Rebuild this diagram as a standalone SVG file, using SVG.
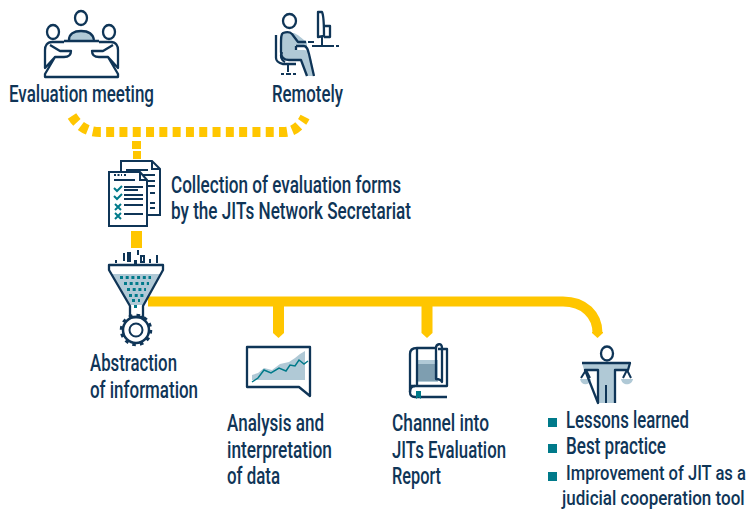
<svg xmlns="http://www.w3.org/2000/svg" width="749" height="510" viewBox="0 0 749 510">
<style>
text{font-family:"Roboto","Liberation Sans",sans-serif;font-size:23px;font-weight:500;fill:#0f3557}
text.s{font-size:21px}
.o{fill:none;stroke:#0f3557;stroke-width:2.300;stroke-linejoin:round}
.w{fill:#fff;stroke:#0f3557;stroke-width:2;stroke-linejoin:miter}
.f{fill:#b0c9d6}
.t{fill:#007a8a}
.y{fill:none;stroke:#ffc600;stroke-width:10}
.n{fill:#0f3557}
.l{stroke:#0f3557;stroke-width:2;fill:none}
</style>
<g id="connectors">
<path class="y" d="M72,116C79,127 88,132 100,132L283,132C293,132 300,127 305,117" stroke-dasharray="8 5.300"/>
<rect x="132" y="141" width="9" height="8" fill="#ffc600"/>
<rect x="133" y="151" width="8" height="8" fill="#ffc600"/>
<rect x="131" y="231" width="11" height="17" fill="#ffc600"/>
<path class="y" stroke-width="11" d="M148,301.500H563C584,301.500 597.500,315 597.500,333"/>
<path fill="#ffc600" d="M592,332h11v1l-5.500,5l-5.500,-5z"/>
<path fill="#ffc600" d="M273,306h11v27l-5.500,5l-5.500,-5z"/>
<path fill="#ffc600" d="M421.500,306h11v27l-5.500,5l-5.500,-5z"/>
</g>
<g id="evaluation-meeting">
<ellipse class="o" cx="81" cy="18" rx="6" ry="7"/>
<ellipse class="o" cx="53" cy="32" rx="6" ry="7"/>
<ellipse class="o" cx="109" cy="32" rx="6" ry="7"/>
<path class="f" d="M69,40C69,34 74,31 81,31C88,31 93,34 94,40Z"/>
<path class="o" d="M69,40C69,34 74,31 81,31C88,31 93,34 94,40"/>
<path class="o" d="M64,41H99"/>
<path class="o" d="M64,42H52C47,42 45,46 45,50V68L55,57M50,45L60,51H71C71,55 68,57 64,57H55L45,74V77H118V74L108,57H99C95,57 92,55 92,51H103L113,45M99,42H111C116,42 118,46 118,50V68L108,57"/>
<text x="9" y="102" textLength="145" lengthAdjust="spacingAndGlyphs">Evaluation meeting</text>
</g>
<g id="remotely">
<ellipse class="o" cx="289.500" cy="21" rx="6.500" ry="7"/>
<path class="f" d="M282,33H293C297,33 303,40 307,42V46H296V50H304C308,50 309,53 311,58L314,76H307L302,60H290C284,60 282,56 282,50Z"/>
<path class="o" d="M306,42H298L292,34C290,32 286,32 283,33C281,34 281,38 281,44V52C281,57 284,60 289,60H301L307,76M296,46H304C307,46 308,50 309,54L314,76M296,46V50"/>
<path class="o" d="M276,35V58C276,60 278,63 283,64H296M282,52C280,56 281,60 285,62"/>
<path class="l" d="M288,64V72M281,74H284M286,74H291M293,74H296"/>
<path class="o" d="M318,12H322C323,14 324,20 324,36L318,37Z"/>
<path class="o" d="M324,26H330V37H324"/>
<path class="l" d="M308,42H314M312,46H334M322,37V45M336,46H339"/>
<text x="272" y="102" textLength="71" lengthAdjust="spacingAndGlyphs">Remotely</text>
</g>
<g id="collection">
<path class="w" d="M121,161H152L160,169V215H121Z"/>
<path class="l" d="M152,161V169H160M126,170H148M137,175H155M140,181H155M145,186H155M150,193H155M150,203H155M150,208H155"/>
<path class="w" d="M109,172H140L147,180V226H109Z"/>
<path class="l" d="M140,172V180H147"/>
<path class="l" d="M114,175H122M124,175H126" stroke-dasharray="2 1.500"/>
<path class="l" d="M114,180H135" stroke-width="1.500"/>
<path class="l" d="M124,187H143M124,190H138M124,195H143M124,199H143M124,205H143M124,214H143"/>
<path stroke="#007a8a" stroke-width="2" fill="none" d="M114,188L117,191L122,186M114,196L117,199L122,194M115,204L121,210M121,204L115,210M115,213L121,219M121,213L115,219"/>
<text x="171" y="193" textLength="230" lengthAdjust="spacingAndGlyphs">Collection of evaluation forms</text>
<text x="171" y="219" textLength="240" lengthAdjust="spacingAndGlyphs">by the JITs Network Secretariat</text>
</g>
<g id="abstraction">
<path class="f" d="M112,274H160L143,305H130Z"/>
<path class="o" d="M109,265H163V270L143,306V317H130V306L109,270Z"/>
<path class="l" stroke-width="1.500" d="M116,260V263M124,253V261M150,259V263M157,255V263M138,250V255M128,253H130V261H128ZM141,256H144V262H141Z"/>
<path class="n" d="M134,260h3v5h-3z"/>
<path class="t" stroke="#007a8a" stroke-width="3" stroke-dasharray="3 2.700" d="M120,277.500H151M124,283.500H149M127,289.500H146M129,295.500H144"/>
<path class="t" stroke="#007a8a" stroke-width="3" stroke-dasharray="3 3" d="M132,300.500H140"/>
<path class="t" d="M134,305h3v3h-3z"/>
<circle cx="136" cy="330" r="13" fill="none" stroke="#0f3557" stroke-width="2.500"/>
<circle cx="136" cy="330" r="14.500" fill="none" stroke="#0f3557" stroke-width="3.500" stroke-dasharray="3.500 4.100"/>
<circle cx="136" cy="330" r="6.500" fill="none" stroke="#0f3557" stroke-width="2"/>
<text x="90" y="371" textLength="87" lengthAdjust="spacingAndGlyphs">Abstraction</text>
<text x="90" y="398" textLength="108" lengthAdjust="spacingAndGlyphs">of information</text>
</g>
<g id="analysis">
<path class="o" d="M247,347H310V396L299,387H247Z"/>
<path class="f" d="M252,375L258,373L264,368L272,370L280,364L289,362L295,358L300,354L305,351V380H252Z"/>
<path stroke="#007a8a" stroke-width="1.500" fill="none" d="M252,382L258,378L264,370L271,373L279,368L286,371L290,365L295,366L299,360L304,364L308,361"/>
<text x="227" y="431" textLength="97" lengthAdjust="spacingAndGlyphs">Analysis and</text>
<text x="227" y="458" textLength="105" lengthAdjust="spacingAndGlyphs">interpretation</text>
<text x="227" y="484" textLength="53" lengthAdjust="spacingAndGlyphs">of data</text>
</g>
<g id="channel">
<path class="f" d="M417,360H438V382H417Z"/>
<path fill="#5e8296" opacity=".6" d="M418,364H437V381H418Z"/>
<path class="o" d="M438,349H447V386H410"/>
<path class="o" d="M436,348C436,344 442,342 442,348V382C441,380 439,379 436,379V348ZM436,348H417C413,348 410,350 410,354V392C410,396 412,397 415,397H447"/>
<path class="o" d="M417,348V386"/>
<path class="o" d="M410,392C410,388 412,386 415,386"/>
<path class="t" d="M416,391H421V399L418.500,397L416,399Z"/>
<text x="392" y="431" textLength="97" lengthAdjust="spacingAndGlyphs">Channel into</text>
<text x="392" y="458" textLength="114" lengthAdjust="spacingAndGlyphs">JITs Evaluation</text>
<text x="392" y="484" textLength="49" lengthAdjust="spacingAndGlyphs">Report</text>
</g>
<g id="outcomes">
<path class="f" d="M582,363H630L628,370H615V403H598V370H584Z"/>
<path class="f" d="M580,379H591C590,386 581,386 580,379ZM621,379H633C632,386 622,386 621,379Z"/>
<ellipse class="o" cx="607" cy="353.500" rx="6" ry="7"/>
<path class="o" d="M582,363H630L628,370H615V403M598,403V370H585Z"/>
<path class="l" d="M606,385V403M586,370L581,378M586,370L590,378M627,370L623,378M627,370L631,378"/>
<rect class="t" x="548" y="418" width="9" height="9"/>
<rect class="t" x="548" y="444" width="9" height="9"/>
<rect class="t" x="548" y="472" width="9" height="9"/>
<text x="566" y="428" textLength="123" lengthAdjust="spacingAndGlyphs">Lessons learned</text>
<text x="566" y="454" textLength="100" lengthAdjust="spacingAndGlyphs">Best practice</text>
<text class="s" transform="translate(566,480) scale(.79,1)">Improvement of JIT as a</text>
<text class="s" transform="translate(562,505) scale(.81,1)">judicial cooperation tool</text>
</g>
</svg>
